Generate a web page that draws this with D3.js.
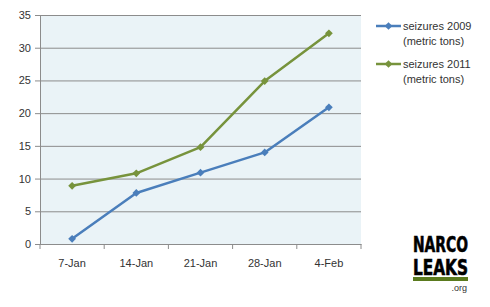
<!DOCTYPE html>
<html>
<head>
<meta charset="utf-8">
<script src="https://cdn.jsdelivr.net/npm/d3@7"></script>
<style>
  body { margin: 0; background: #fff; }
  svg text { font-family: "Liberation Sans", Arial, sans-serif; }
</style>
</head>
<body>
<svg id="chart" width="490" height="307"></svg>
<script>
const categories = ['7-Jan', '14-Jan', '21-Jan', '28-Jan', '4-Feb'];
const seizures2009 = [0.8, 7.8, 10.9, 14.0, 20.9];
const seizures2011 = [8.9, 10.8, 14.8, 24.9, 32.2];
const yTicks = [0, 5, 10, 15, 20, 25, 30, 35];
const seriesNames = [['seizures 2009', '(metric tons)'], ['seizures 2011', '(metric tons)']];
const seriesColors = ['#4a7ebb', '#77933c'];

const svg = d3.select('#chart');
const plot = { left: 40, right: 361, top: 15, bottom: 244 };

const x = d3.scaleBand().domain(categories).range([plot.left, plot.right]);
const y = d3.scaleLinear().domain([0, 35]).range([plot.bottom, plot.top]);

// plot background
svg.append('rect')
  .attr('x', plot.left).attr('y', plot.top)
  .attr('width', plot.right - plot.left).attr('height', plot.bottom - plot.top)
  .attr('fill', '#eaf3f7');

// gridlines
svg.append('g')
  .attr('transform', `translate(${plot.left},0)`)
  .call(d3.axisLeft(y).tickValues(yTicks).tickSize(-(plot.right - plot.left)).tickFormat(''))
  .call(g => g.select('.domain').remove())
  .call(g => g.selectAll('line').attr('stroke', '#8c8c8c').attr('stroke-width', 1));

// y axis
svg.append('g')
  .attr('transform', `translate(${plot.left},0)`)
  .call(d3.axisLeft(y).tickValues(yTicks).tickSize(5).tickPadding(4))
  .call(g => g.select('.domain').attr('stroke', '#8c8c8c'))
  .call(g => g.selectAll('line').attr('stroke', '#8c8c8c'))
  .call(g => g.selectAll('text').attr('fill', '#333').style('font-size', '11px'));

// x axis
const xAxis = svg.append('g')
  .attr('transform', `translate(0,${plot.bottom})`)
  .call(d3.axisBottom(x).tickSize(0).tickPadding(15))
  .call(g => g.select('.domain').attr('stroke', '#8c8c8c'))
  .call(g => g.selectAll('text').attr('fill', '#333').style('font-size', '11px'));

// category boundary ticks
xAxis.selectAll('line.bound')
  .data(categories.map(c => x(c)).concat([plot.right]))
  .join('line')
  .attr('class', 'bound')
  .attr('x1', d => d).attr('x2', d => d)
  .attr('y1', 0).attr('y2', 5)
  .attr('stroke', '#8c8c8c');

const series = [seizures2009, seizures2011];
const line = d3.line()
  .x((d, i) => x(categories[i]) + x.bandwidth() / 2)
  .y(d => y(d));

// square diamond, like Excel's marker
const diamond = d3.symbol().type(d3.symbolSquare).size(30);

series.forEach((vals, s) => {
  svg.append('path')
    .datum(vals)
    .attr('d', line)
    .attr('fill', 'none')
    .attr('stroke', seriesColors[s])
    .attr('stroke-width', 2.5)
    .attr('stroke-linejoin', 'round');
  svg.selectAll(null)
    .data(vals)
    .join('path')
    .attr('d', diamond)
    .attr('transform', (d, i) => `translate(${x(categories[i]) + x.bandwidth() / 2},${y(d)}) rotate(45)`)
    .attr('fill', seriesColors[s]);
});

// legend
const legend = svg.append('g');
seriesNames.forEach((names, s) => {
  const ly = 26 + s * 38;
  legend.append('line')
    .attr('x1', 376).attr('x2', 401).attr('y1', ly).attr('y2', ly)
    .attr('stroke', seriesColors[s]).attr('stroke-width', 2.5);
  legend.append('path')
    .attr('d', diamond)
    .attr('transform', `translate(388.5,${ly}) rotate(45)`)
    .attr('fill', seriesColors[s]);
  names.forEach((t, k) => {
    legend.append('text')
      .attr('x', 403).attr('y', ly + 4 + k * 15)
      .attr('fill', '#333')
      .style('font-size', '11px')
      .text(t);
  });
});

// logo
const logo = svg.append('g');
['NARCO', 'LEAKS'].forEach((t, k) => {
  logo.append('text')
    .attr('x', 413).attr('y', 252 + k * 23)
    .attr('textLength', 55).attr('lengthAdjust', 'spacingAndGlyphs')
    .style('font-family', '"DejaVu Sans Condensed", "DejaVu Sans", sans-serif')
    .style('font-weight', 'bold').style('font-size', '22px')
    .attr('fill', '#000')
    .attr('stroke', '#000').attr('stroke-width', 0.6)
    .text(t);
});
logo.append('rect')
  .attr('x', 413).attr('y', 277).attr('width', 55).attr('height', 4)
  .attr('fill', '#5a7a1e');
logo.append('text')
  .attr('x', 467).attr('y', 291)
  .attr('text-anchor', 'end')
  .attr('fill', '#333')
  .style('font-size', '9px')
  .text('.org');
</script>
</body>
</html>
